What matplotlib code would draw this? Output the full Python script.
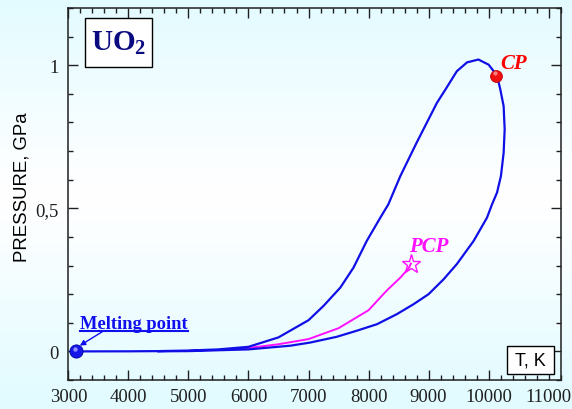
import numpy as np
import matplotlib
matplotlib.use("Agg")
import matplotlib.pyplot as plt
from matplotlib.patches import Rectangle
from matplotlib.lines import Line2D
from matplotlib.ticker import MultipleLocator, FixedLocator, FixedFormatter

plt.rcParams['mathtext.default'] = 'regular'

# ---- data ----
T_liquid = [3128, 4000, 4500, 5000, 5500, 6000, 6500, 6700, 7000, 7250, 7530, 7750,
            7970, 8195, 8330, 8530, 8800, 8970, 9140, 9280, 9470, 9640, 9830, 10000, 10140]
P_liquid = [0.0, 0.0003, 0.001, 0.003, 0.007, 0.016, 0.049, 0.073, 0.109, 0.159, 0.223, 0.293,
            0.386, 0.467, 0.514, 0.613, 0.729, 0.799, 0.869, 0.915, 0.979, 1.010, 1.020, 1.002, 0.964]
T_vapour = [10140, 10195, 10250, 10267, 10250, 10205, 10140, 10057, 9972, 9750, 9470, 9250,
            9000, 8750, 8470, 8140, 7800, 7470, 7030, 6700, 6000, 5000, 4500]
P_vapour = [0.964, 0.915, 0.857, 0.776, 0.694, 0.613, 0.555, 0.514, 0.467, 0.386, 0.305, 0.252,
            0.200, 0.165, 0.130, 0.095, 0.072, 0.051, 0.031, 0.020, 0.007, 0.001, 0.0003]
T_pcp_line = [5000, 5500, 6000, 6500, 7000, 7500, 8000, 8300, 8530, 8670, 8705]
P_pcp_line = [0.002, 0.005, 0.012, 0.025, 0.043, 0.081, 0.144, 0.212, 0.258, 0.291, 0.307]

CP = (10130, 0.964)
PCP = (8705, 0.307)
MELT = (3128, 0.0)

x_ticks = [3000, 4000, 5000, 6000, 7000, 8000, 9000, 10000, 11000]
x_tick_labels = ['3000', '4000', '5000', '6000', '7000', '8000', '9000', '10000', '11000']
y_ticks = [0, 0.5, 1]
y_tick_labels = ['0', '0,5', '1']

# ---- figure ----
fig = plt.figure(figsize=(5.72, 4.10), dpi=100)

# background gradient (light cyan -> white -> light cyan)
bg = fig.add_axes([0, 0, 1, 1], zorder=-10)
yy = np.linspace(0, 1, 300)[:, None]
w = np.clip(np.abs(yy - 0.52) * 2.1, 0, 1) ** 1.1
cyan = np.array([0.89, 0.985, 1.0])
white = np.array([1.0, 1.0, 1.0])
img = white[None, None, :] * (1 - w[..., None]) + cyan[None, None, :] * w[..., None]
img = np.repeat(img, 2, axis=1)
bg.imshow(img, aspect='auto', extent=[0, 1, 0, 1], origin='lower')
bg.axis('off')

ax = fig.add_axes([0.1195, 0.0707, 0.8607, 0.9073])
ax.set_facecolor('none')

blue = '#1010e6'
pink = '#ff10ff'

ax.plot(T_liquid + T_vapour, P_liquid + P_vapour, color=blue, lw=1.6, zorder=3)
ax.plot(T_pcp_line, P_pcp_line, color=pink, lw=1.4, zorder=2)

# markers
ax.plot(*CP, 'o', ms=8.5, color='#f01010', mec='#c00000', mew=0.6, zorder=5)
ax.plot(CP[0] - 25, CP[1] + 0.008, 'o', ms=3, color='#ff8080', mew=0, zorder=6)
ax.plot(*PCP, marker='*', ms=14, mfc='none', mec=pink, mew=1.0, zorder=5)
ax.plot(*MELT, 'o', ms=9.5, color='#1515e8', mec='#0000a0', mew=0.6, zorder=5, clip_on=False)
ax.plot(MELT[0] - 25, MELT[1] + 0.009, 'o', ms=3.2, color='#9090ff', mew=0, zorder=6, clip_on=False)

# labels
ax.text(10195, 0.991, 'CP', color='#ff0000', fontsize=15, fontweight='bold',
        fontstyle='italic', family='Liberation Serif', ha='left', va='baseline')
ax.text(8678, 0.351, 'PCP', color=pink, fontsize=15, fontweight='bold',
        fontstyle='italic', family='Liberation Serif', ha='left', va='baseline')
mt = ax.text(3200, 0.082, 'Melting point', color='#1010ee', fontsize=13.3, fontweight='bold',
             family='Liberation Serif', ha='left', va='baseline')
ax.annotate('', xy=(3190, 0.020), xytext=(3590, 0.072),
            arrowprops=dict(arrowstyle='-|>', color='#1010ee', lw=1.0,
                            mutation_scale=8, shrinkA=0, shrinkB=0))

# UO2 box
ax.add_patch(Rectangle((0.034, 0.842), 0.1354, 0.130, transform=ax.transAxes,
                       facecolor='white', edgecolor='black', lw=1.0, zorder=4))
ax.text(0.034 + 0.1354 / 2, 0.842 + 0.130 / 2, 'UO$_2$', transform=ax.transAxes,
        ha='center', va='center', fontsize=21, fontweight='bold',
        family='Liberation Serif', color='#0a0a80', zorder=5)

# T, K box
ax.add_patch(Rectangle((0.890, 0.016), 0.0967, 0.076, transform=ax.transAxes,
                       facecolor='white', edgecolor='black', lw=1.0, zorder=4))
ax.text(0.890 + 0.0967 / 2, 0.016 + 0.076 / 2, 'T, K', transform=ax.transAxes,
        ha='center', va='center', fontsize=13, family='Liberation Sans',
        color='black', zorder=5)

# axes
ax.set_xlim(3000, 11200)
ax.set_ylim(-0.1, 1.2)
ax.xaxis.set_major_locator(FixedLocator(x_ticks))
ax.xaxis.set_major_formatter(FixedFormatter(x_tick_labels))
ax.xaxis.set_minor_locator(MultipleLocator(200))
ax.yaxis.set_major_locator(FixedLocator(y_ticks))
ax.yaxis.set_major_formatter(FixedFormatter(y_tick_labels))
ax.yaxis.set_minor_locator(MultipleLocator(0.1))
ax.tick_params(which='both', direction='in', top=True, right=True, color='#202020', width=1.0)
ax.tick_params(which='major', length=7)
ax.tick_params(which='minor', length=3.6)
ax.tick_params(axis='x', which='major', pad=5.5)
ax.tick_params(axis='y', which='major', pad=7)
for lab in ax.get_xticklabels() + ax.get_yticklabels():
    lab.set_family('Liberation Serif')
    lab.set_fontsize(13.5)
    lab.set_color('#202020')
for s in ax.spines.values():
    s.set_linewidth(1.1)
    s.set_color('#202020')

ax.set_ylabel('PRESSURE, GPa', family='Liberation Sans', fontsize=13.4)
ax.yaxis.set_label_coords(-0.076, 0.52)

# underline for "Melting point"
fig.canvas.draw()
bb = mt.get_window_extent()
inv = fig.transFigure.inverted()
(x0, _), (x1, _) = inv.transform([(bb.x0, 0), (bb.x1, 0)])
_, ybase = inv.transform(ax.transData.transform((3200, 0.082)))
uy = ybase - 3.0 / 410
fig.add_artist(Line2D([x0, x1], [uy, uy], color='#1010ee', lw=1.5, transform=fig.transFigure))

fig.savefig('out.png', dpi=100)
